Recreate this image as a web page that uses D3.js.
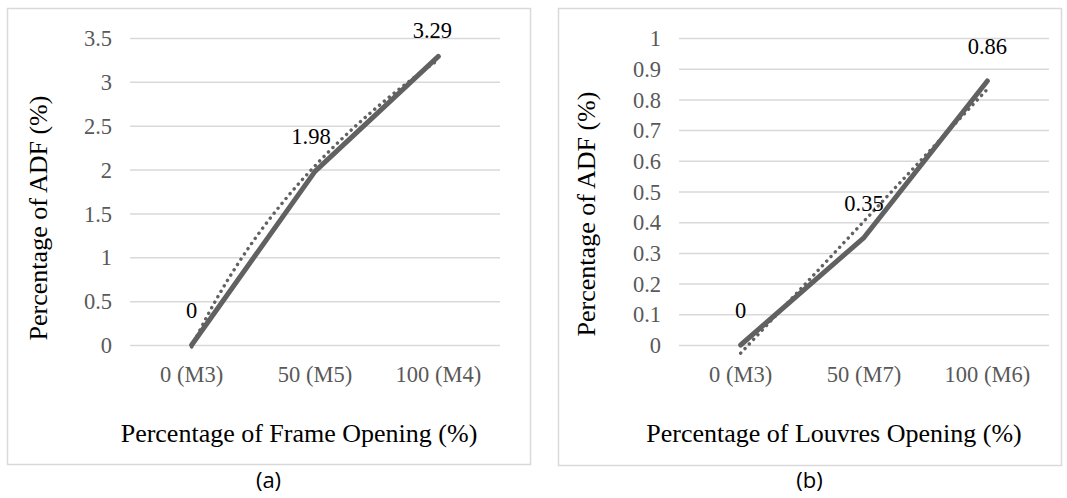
<!DOCTYPE html>
<html>
<head>
<meta charset="utf-8">
<script src="https://cdn.jsdelivr.net/npm/d3@7/dist/d3.min.js"></script>
<style>
  html, body { margin: 0; padding: 0; background: #fff; }
  svg { display: block; }
  .serif { font-family: "Liberation Serif", "Tinos", "DejaVu Serif", "Noto Serif", serif; }
  .sans { font-family: "Open Sans", "Liberation Sans", sans-serif; }
</style>
</head>
<body>
<script>
// ---- data ----
const categoriesA = ["0 (M3)", "50 (M5)", "100 (M4)"];
const valuesA = [0, 1.98, 3.29];
const yTicksA = [0, 0.5, 1, 1.5, 2, 2.5, 3, 3.5];
const yTickLabelsA = ["0", "0.5", "1", "1.5", "2", "2.5", "3", "3.5"];
const xTitleA = "Percentage of Frame Opening (%)";
const yTitleA = "Percentage of ADF (%)";
const captionA = "(a)";
const trendTypeA = "log";

const categoriesB = ["0 (M3)", "50 (M7)", "100 (M6)"];
const valuesB = [0, 0.35, 0.86];
const yTicksB = [0, 0.1, 0.2, 0.3, 0.4, 0.5, 0.6, 0.7, 0.8, 0.9, 1];
const yTickLabelsB = ["0", "0.1", "0.2", "0.3", "0.4", "0.5", "0.6", "0.7", "0.8", "0.9", "1"];
const xTitleB = "Percentage of Louvres Opening (%)";
const yTitleB = "Percentage of ADF (%)";
const captionB = "(b)";
const trendTypeB = "linear";

// ---- layout ----
const W = 1067, H = 498;
const svg = d3.select("body").append("svg").attr("width", W).attr("height", H);
svg.append("rect").attr("width", W).attr("height", H).attr("fill", "#fff");

const LINE = "#616161";
const GRID = "#d9d9d9";

// least squares fit y = a*f(x) + b, with Excel category x = 1..n
function trendFn(vals, type) {
  const f = type === "log" ? (x => Math.log(x)) : (x => x);
  const xs = vals.map((v, i) => f(i + 1));
  const mx = d3.mean(xs), my = d3.mean(vals);
  const a = d3.sum(xs, (x, i) => (x - mx) * (vals[i] - my)) / d3.sum(xs, x => (x - mx) * (x - mx));
  const b = my - a * mx;
  return t => a * f(t + 1) + b;   // t = 0-based category position
}

function panel(cfg) {
  const g = svg.append("g");
  g.append("rect")
    .attr("x", cfg.box[0] + 0.5).attr("y", cfg.box[1] + 0.5)
    .attr("width", cfg.box[2] - cfg.box[0]).attr("height", cfg.box[3] - cfg.box[1])
    .attr("fill", "none").attr("stroke", GRID).attr("stroke-width", 1.5);

  const x = d3.scaleBand().domain(cfg.cats).range([cfg.left, cfg.right]);
  const y = d3.scaleLinear().domain([0, d3.max(cfg.ticks)]).range([cfg.bottom, cfg.top]);

  const yAxis = d3.axisLeft(y).tickValues(cfg.ticks)
    .tickFormat((d, i) => cfg.tickLabels[i])
    .tickSize(-(cfg.right - cfg.left)).tickPadding(18);
  const ya = g.append("g").attr("transform", `translate(${cfg.left},0)`).call(yAxis)
    .attr("font-family", null).attr("font-size", null);
  ya.select(".domain").remove();
  ya.selectAll(".tick line").attr("stroke", GRID).attr("stroke-width", 1.5);
  ya.selectAll(".tick text").attr("class", "serif").attr("font-size", 22.5)
    .attr("fill", "#595959").attr("dy", "0.34em");

  const xAxis = d3.axisBottom(x).tickSize(0).tickPadding(0);
  const xa = g.append("g").attr("transform", `translate(0,${cfg.bottom})`).call(xAxis)
    .attr("font-family", null).attr("font-size", null);
  xa.select(".domain").remove();
  xa.selectAll(".tick text").attr("class", "serif").attr("font-size", 22.5)
    .attr("fill", "#595959").attr("dy", null).attr("y", 37);

  const cx = d => x(d) + x.bandwidth() / 2;
  const pts = cfg.cats.map((c, i) => [cx(c), y(cfg.vals[i])]);

  // trendline (dotted)
  const tf = trendFn(cfg.vals, cfg.trend);
  const n = cfg.cats.length - 1;
  const xi = d3.scaleLinear().domain([0, n]).range([cx(cfg.cats[0]), cx(cfg.cats[n])]);
  const samples = d3.range(0, n + 1e-9, 0.02).map(t => [xi(t), y(tf(t))]);
  g.append("path").datum(samples)
    .attr("d", d3.line())
    .attr("fill", "none").attr("stroke", LINE).attr("stroke-width", 3.4)
    .attr("stroke-linecap", "round").attr("stroke-dasharray", "0.1 6.2");

  // series line
  g.append("path").datum(pts)
    .attr("d", d3.line())
    .attr("fill", "none").attr("stroke", LINE).attr("stroke-width", 5)
    .attr("stroke-linecap", "round").attr("stroke-linejoin", "round");

  // data labels
  g.selectAll(".lbl").data(cfg.vals).enter().append("text")
    .attr("class", "serif")
    .attr("x", (d, i) => cx(cfg.cats[i]) + cfg.lblShift[i])
    .attr("y", d => Math.max(y(d) - 27, cfg.top))
    .attr("text-anchor", "middle")
    .attr("font-size", 22.5).attr("fill", "#000")
    .text(d => String(d));

  // axis titles
  g.append("text").attr("class", "serif").attr("x", cfg.xTitleX).attr("y", 442)
    .attr("text-anchor", "middle").attr("font-size", 26)
    .attr("fill", "#000").text(cfg.xTitle);
  g.append("text").attr("class", "serif")
    .attr("transform", `translate(${cfg.yTitleX},${cfg.yTitleY}) rotate(-90)`)
    .attr("text-anchor", "middle").attr("font-size", 26)
    .attr("fill", "#000").text(cfg.yTitle);

  svg.append("text").attr("class", "sans").attr("x", (cfg.box[0] + cfg.box[2]) / 2).attr("y", 488)
    .attr("text-anchor", "middle").attr("font-size", 22).attr("fill", "#000").text(cfg.caption);
}

panel({
  box: [7, 8, 530, 464], left: 130, right: 500, top: 38, bottom: 345,
  cats: categoriesA, vals: valuesA, ticks: yTicksA, tickLabels: yTickLabelsA,
  trend: trendTypeA, xTitle: xTitleA, yTitle: yTitleA, caption: captionA,
  xTitleX: 299, yTitleX: 47, yTitleY: 218, lblShift: [0, -4, -6]
});
panel({
  box: [558, 8, 1061, 465], left: 679, right: 1049, top: 38, bottom: 345,
  cats: categoriesB, vals: valuesB, ticks: yTicksB, tickLabels: yTickLabelsB,
  trend: trendTypeB, xTitle: xTitleB, yTitle: yTitleB, caption: captionB,
  xTitleX: 834, yTitleX: 595, yTitleY: 214, lblShift: [0, 0, 0]
});
</script>
</body>
</html>
